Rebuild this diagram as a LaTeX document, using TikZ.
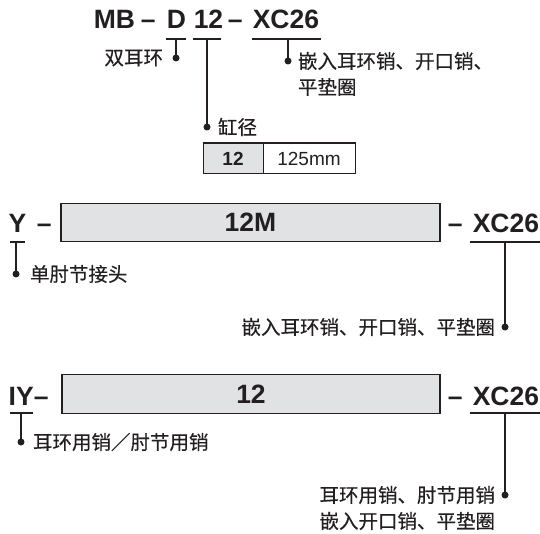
\documentclass[tikz,border=0pt]{standalone}
\usepackage{fontspec}
\setmainfont{Liberation Sans}
\newfontfamily\cjk[FakeBold=0.35, UprightFeatures={FakeBold=0.35}]{Noto Sans CJK SC}
\usetikzlibrary{positioning}
\definecolor{InkBlack}{RGB}{35, 31, 32}
\definecolor{BoxGray}{RGB}{225, 226, 228}

\begin{document}
\begin{tikzpicture}[x=1pt, y=-1pt, line width=1.5pt, InkBlack,
    code/.style={font=\fontsize{26.5}{26.5}\selectfont\bfseries, inner sep=0pt, anchor=base west},
    lbl/.style={font=\fontsize{19.5}{26}\selectfont\cjk, inner sep=0pt},
    dot/.style={circle, fill=InkBlack, inner sep=0pt, minimum size=7pt},
    cell/.style={draw=InkBlack, line width=1pt, outer sep=0pt, minimum height=31pt,
                 font=\fontsize{19}{19}\selectfont},
    rod/.style={draw=InkBlack, fill=BoxGray, line width=1.4pt, minimum height=38.5pt,
                font=\fontsize{26.5}{26.5}\selectfont\bfseries}]
    \useasboundingbox (0,0) rectangle (540,534);

    % Clevis model code
    \node[code] (mb) at (93,29) {MB};
    \node[code] (mbdash) at (140,29) {--};
    \node[code] (clevis) at (166,29) {D};
    \node[code] (bore) at (193,29) {12};
    \node[code] (dashA) at (227,29) {--};
    \node[code] (xcA) at (252,29) {XC26};
    \draw (166,39) -- (186,39);
    \draw (193,39) -- (221,39);
    \draw (252,39) -- (321,39);

    \coordinate (tClevis) at (176,39);
    \coordinate (tBore) at (207,39);
    \coordinate (tXcA) at (288,39);
    \node[dot] (dClevis) at (176,58) {};
    \node[dot] (dBore) at (207,127) {};
    \node[dot] (dXcA) at (288,61) {};
    \draw (tClevis) -- (dClevis.center);
    \draw (tBore) -- (dBore.center);
    \draw (tXcA) -- (dXcA.center);
    \node[lbl, left=8pt of dClevis] (lClevis) {双耳环};
    \node[lbl, right=6pt of dBore] (lBore) {缸径};
    \node[lbl, right=5pt of dXcA, yshift=-13pt, align=left] (lXcA) {嵌入耳环销、开口销、\\平垫圈};

    % Bore table
    \node[cell, fill=BoxGray, minimum width=60pt, font=\fontsize{19}{19}\selectfont\bfseries] (boreA) at (233,158.5) {12};
    \node[cell, minimum width=92pt, right=0pt of boreA] (boreB) {125mm};
    \draw[line width=2pt] (boreA.north west) -- (boreB.north east);

    % Single knuckle joint
    \node[code] (knY) at (8,233) {Y};
    \node[code] (dashY) at (36,233) {--};
    \node[rod, minimum width=379pt] (rodY) at (250.5,222.5) {12M};
    \node[code] (dashYr) at (447,233) {--};
    \node[code] (xcY) at (472,233) {XC26};
    \draw (10,242) -- (25,242);
    \draw (470,242) -- (540,242);
    \coordinate (tKnY) at (16,242);
    \coordinate (tXcY) at (505,242);
    \node[dot] (dKnY) at (16,274) {};
    \node[dot] (dXcY) at (505,327) {};
    \draw (tKnY) -- (dKnY.center);
    \draw (tXcY) -- (dXcY.center);
    \node[lbl, right=9pt of dKnY] (lKnY) {单肘节接头};
    \node[lbl, left=5pt of dXcY] (lXcY) {嵌入耳环销、开口销、平垫圈};

    % Pin set
    \node[code] (knIY) at (8,405) {IY};
    \node[code] (dashIY) at (33,405) {--};
    \node[rod, minimum width=378pt] (rodIY) at (251,394) {12};
    \node[code] (dashIYr) at (447,405) {--};
    \node[code] (xcIY) at (472,405) {XC26};
    \draw (10,413) -- (33,413);
    \draw (470,413) -- (540,413);
    \coordinate (tKnIY) at (21,413);
    \coordinate (tXcIY) at (505,413);
    \node[dot] (dKnIY) at (21,442) {};
    \node[dot] (dXcIY) at (505,495) {};
    \draw (tKnIY) -- (dKnIY.center);
    \draw (tXcIY) -- (dXcIY.center);
    \node[lbl, right=7pt of dKnIY] (lKnIY) {耳环用销／肘节用销};
    \node[lbl, left=5pt of dXcIY, yshift=-13pt, align=right] (lXcIY) {耳环用销、肘节用销\\嵌入开口销、平垫圈};
\end{tikzpicture}
\end{document}
